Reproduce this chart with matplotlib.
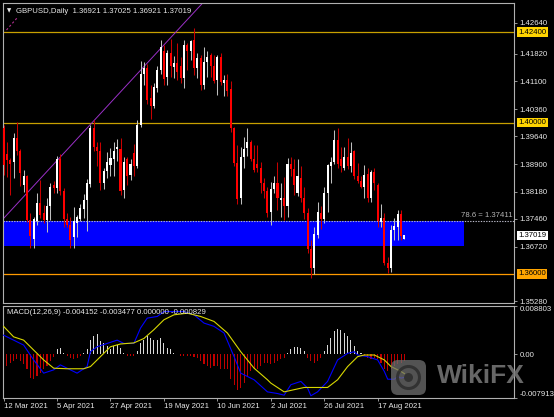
import matplotlib
matplotlib.use('Agg')
import matplotlib.pyplot as plt
import numpy as np
import pandas as pd
from matplotlib.patches import Rectangle, FancyBboxPatch
import matplotlib.transforms as mtransforms

plt.rcParams['font.family'] = ['Liberation Sans', 'DejaVu Sans']

W, H = 554, 417

# daily GBPUSD candles, 12 Mar 2021 .. 27 Aug 2021
opens = [1.3985, 1.3918, 1.3901, 1.3897, 1.3959, 1.3924, 1.3836, 1.3858, 1.3743, 1.3692,
         1.3740, 1.3787, 1.3760, 1.3742, 1.3780, 1.3835, 1.3828, 1.3905, 1.3820, 1.3745,
         1.3730, 1.3698, 1.3735, 1.3745, 1.3772, 1.3795, 1.3838, 1.3985, 1.3935, 1.3925,
         1.3840, 1.3872, 1.3888, 1.3905, 1.3930, 1.3930, 1.3822, 1.3905, 1.3862, 1.3920,
         1.3885, 1.3995, 1.4130, 1.4145, 1.4065, 1.4045, 1.4092, 1.4140, 1.4190, 1.4120,
         1.4185, 1.4148, 1.4157, 1.4150, 1.4118, 1.4205, 1.4190, 1.4220, 1.4145, 1.4170,
         1.4100, 1.4160, 1.4180, 1.4150, 1.4112, 1.4175, 1.4105, 1.4112, 1.4090, 1.3985,
         1.3893, 1.3800, 1.3910, 1.3933, 1.3948, 1.3905, 1.3890, 1.3880, 1.3840, 1.3820,
         1.3765, 1.3825, 1.3840, 1.3795, 1.3800, 1.3780, 1.3890, 1.3877, 1.3815, 1.3855,
         1.3800, 1.3760, 1.3665, 1.3615, 1.3703, 1.3760, 1.3745, 1.3813, 1.3885, 1.3897,
         1.3955, 1.3905, 1.3880, 1.3910, 1.3885, 1.3925, 1.3860, 1.3845, 1.3830, 1.3865,
         1.3800, 1.3870, 1.3835, 1.3737, 1.3748, 1.3630, 1.3617, 1.3717, 1.3725, 1.3758,
         1.36921]
highs = [1.3995, 1.3950, 1.3906, 1.3972, 1.4001, 1.3930, 1.3876, 1.3862, 1.3760, 1.3752,
         1.3813, 1.3849, 1.3782, 1.3800, 1.3840, 1.3845, 1.3912, 1.3918, 1.3827, 1.3760,
         1.3750, 1.3778, 1.3757, 1.3785, 1.3812, 1.3850, 1.3995, 1.4008, 1.3950, 1.3950,
         1.3880, 1.3922, 1.3932, 1.3950, 1.3957, 1.3959, 1.3910, 1.3910, 1.3905, 1.3945,
         1.4007, 1.4162, 1.4160, 1.4155, 1.4100, 1.4105, 1.4150, 1.4219, 1.4205, 1.4193,
         1.4222, 1.4176, 1.4212, 1.4175, 1.4219, 1.4212, 1.4220, 1.4250, 1.4185, 1.4180,
         1.4200, 1.4190, 1.4185, 1.4180, 1.4180, 1.4185, 1.4125, 1.4130, 1.4110, 1.3990,
         1.3941, 1.3935, 1.3963, 1.3985, 1.3955, 1.3940, 1.3940, 1.3895, 1.3855, 1.3830,
         1.3844, 1.3860, 1.3897, 1.3840, 1.3857, 1.3906, 1.3910, 1.3905, 1.3905, 1.3885,
         1.3830, 1.3775, 1.3690, 1.3725, 1.3790, 1.3780, 1.3831, 1.3892, 1.3910, 1.3981,
         1.3985, 1.3935, 1.3937, 1.3959, 1.3950, 1.3928, 1.3893, 1.3860, 1.3888, 1.3880,
         1.3875, 1.3880, 1.3840, 1.3785, 1.3760, 1.3645, 1.3730, 1.3747, 1.3768, 1.3768,
         1.37025]
lows = [1.3862, 1.3857, 1.3809, 1.3853, 1.3915, 1.3832, 1.3816, 1.3738, 1.3668, 1.3668,
        1.3730, 1.3748, 1.3735, 1.3712, 1.3743, 1.3815, 1.3815, 1.3808, 1.3725, 1.3725,
        1.3668, 1.3668, 1.3699, 1.3740, 1.3748, 1.3715, 1.3830, 1.3925, 1.3885, 1.3822,
        1.3825, 1.3853, 1.3860, 1.3860, 1.3900, 1.3808, 1.3800, 1.3835, 1.3848, 1.3860,
        1.3880, 1.3990, 1.4100, 1.4050, 1.4010, 1.4040, 1.4080, 1.4130, 1.4100, 1.4100,
        1.4120, 1.4118, 1.4112, 1.4105, 1.4091, 1.4140, 1.4165, 1.4125, 1.4118, 1.4087,
        1.4090, 1.4120, 1.4120, 1.4105, 1.4073, 1.4100, 1.4070, 1.4070, 1.3975, 1.3885,
        1.3786, 1.3785, 1.3880, 1.3912, 1.3900, 1.3870, 1.3870, 1.3813, 1.3800, 1.3750,
        1.3730, 1.3815, 1.3770, 1.3752, 1.3743, 1.3751, 1.3860, 1.3810, 1.3805, 1.3790,
        1.3745, 1.3655, 1.3589, 1.3600, 1.3695, 1.3718, 1.3735, 1.3765, 1.3840, 1.3892,
        1.3880, 1.3870, 1.3875, 1.3878, 1.3870, 1.3850, 1.3840, 1.3827, 1.3800, 1.3790,
        1.3790, 1.3822, 1.3725, 1.3725, 1.3624, 1.3602, 1.3605, 1.3690, 1.3690, 1.3690,
        1.36921]
closes = [1.3888, 1.3901, 1.3891, 1.3959, 1.3924, 1.3866, 1.3858, 1.3743, 1.3700, 1.3745,
          1.3787, 1.3756, 1.3742, 1.3780, 1.3830, 1.3828, 1.3905, 1.3820, 1.3745, 1.3730,
          1.3690, 1.3740, 1.3752, 1.3775, 1.3795, 1.3840, 1.3985, 1.3935, 1.3925, 1.3840,
          1.3872, 1.3895, 1.3906, 1.3925, 1.3937, 1.3820, 1.3895, 1.3860, 1.3890, 1.3885,
          1.3993, 1.4130, 1.4145, 1.4060, 1.4045, 1.4095, 1.4140, 1.4200, 1.4115, 1.4185,
          1.4150, 1.4157, 1.4135, 1.4118, 1.4205, 1.4190, 1.4215, 1.4145, 1.4170, 1.4100,
          1.4160, 1.4175, 1.4150, 1.4110, 1.4175, 1.4108, 1.4112, 1.4085, 1.3985, 1.3893,
          1.3797, 1.3910, 1.3930, 1.3948, 1.3905, 1.3875, 1.3880, 1.3840, 1.3820, 1.3760,
          1.3825, 1.3840, 1.3800, 1.3802, 1.3780, 1.3890, 1.3877, 1.3835, 1.3860, 1.3800,
          1.3760, 1.3665, 1.3615, 1.3707, 1.3765, 1.3745, 1.3813, 1.3887, 1.3897, 1.3955,
          1.3890, 1.3885, 1.3910, 1.3885, 1.3920, 1.3860, 1.3845, 1.3830, 1.3862, 1.3800,
          1.3870, 1.3840, 1.3740, 1.3748, 1.3630, 1.3615, 1.3717, 1.3728, 1.3758, 1.3700,
          1.37019]

# MACD(12,26,9), values in units of 1e-4
macd_idx = [0, 3, 6, 9, 12, 15, 17, 19, 22, 25, 26, 28, 31, 34, 36, 39, 41, 43, 46, 48,
            51, 54, 57, 60, 63, 66, 69, 71, 75, 79, 82, 84, 86, 89, 91, 92, 94, 97, 100,
            103, 105, 106, 109, 112, 114, 115, 117, 118, 119, 120]
macd_vals = [35, 26, 17, -10, -34, -28, -19, -25, -34, -22, 5, 14, 20, 26, 20, 20, 48, 66, 69, 78,
             78, 78, 72, 57, 51, 39, -4, -34, -46, -68, -71, -74, -55, -49, -61, -75, -68, -49, -10,
             2, 5, -1, -4, -10, -31, -45, -45, -40, -43, -41.52]
signal_idx = [0, 3, 6, 9, 12, 15, 19, 24, 26, 29, 32, 35, 39, 42, 45, 48, 51, 55, 59, 63,
              67, 71, 75, 79, 80, 84, 90, 97, 100, 103, 106, 108, 111, 114, 116, 119, 120]
signal_vals = [51, 32, 26, 8, -10, -25, -26, -26, -22, -4, 14, 19, 21, 29, 45, 63, 72, 75, 69, 60,
               39, 5, -25, -46, -52, -68, -60, -60, -46, -22, -4, -1, -1, -10, -22, -31, -34.77]
hist_vals = [-21, -21, -15, -12, -9, -12, -18, -27, -42, -45,
             -39, -33, -27, -21, -12, -4, 9, 12, 3, -2,
             -6, -9, -6, -2, 3, 9, 27, 33, 38, 24,
             21, 15, 9, 15, 18, 12, 3, -2, -3, -2,
             6, 21, 27, 33, 30, 27, 27, 30, 21, 12,
             9, 3, 1, -2, -3, -2, -3, -4, -6, -12,
             -18, -21, -24, -21, -21, -27, -27, -27, -45, -55,
             -64, -61, -51, -39, -30, -27, -27, -21, -15, -15,
             -18, -15, -12, -9, -6, 3, 9, 14, 14, 12,
             6, -6, -12, -15, -12, -6, 6, 18, 30, 42,
             47, 45, 39, 33, 27, 15, 6, 3, -2, -6,
             -9, -6, -8, -15, -27, -30, -27, -21, -18, -15,
             -12]

price_ticks = [1.42640, 1.41820, 1.41100, 1.40360, 1.39640, 1.38900, 1.38180,
               1.37460, 1.36720, 1.35280]
gold_levels = [1.42400, 1.40000]
support_level = 1.36000
fib_level = 1.37411
zone_low = 1.36749
macd_max, macd_min = 0.008803, -0.007913
date_ticks = [0, 16, 32, 48, 64, 80, 96, 112]

dates = pd.bdate_range('2021-03-12', periods=len(closes))

BG = 'black'
GRID = '#B0B0B0'
TXT = '#E8E8E8'
FS = 5.6

# bar i sits at pixel 3.6 + 3.34*i ; plot spans pixel 3..514
px0, step = 3.6, 3.34
xmin = (3 - px0) / step
xmax = (514 - px0) / step


def fig_rect(l, t, r, b):
    return [l / W, 1 - b / H, (r - l) / W, (b - t) / H]


fig = plt.figure(figsize=(W / 100, H / 100), dpi=100, facecolor=BG)
ax = fig.add_axes(fig_rect(3, 3, 514, 303), facecolor=BG)
ax2 = fig.add_axes(fig_rect(3, 306, 514, 398), facecolor=BG)

# ---- price panel ----
x = np.arange(len(closes))
o = np.array(opens)
hi = np.array(highs)
lo = np.array(lows)
c = np.array(closes)
up = c >= o

ax.add_patch(Rectangle((xmin, zone_low), (464 - px0) / step - xmin, fib_level - zone_low,
                       facecolor='#0000FF', edgecolor='none', zorder=1))
for lv in gold_levels:
    ax.axhline(lv, color='#C8A000', lw=0.9, zorder=1.5)
ax.axhline(support_level, color='#FF9A00', lw=0.9, zorder=1.5)
ax.axhline(fib_level, color='#B8B8C8', lw=0.8, ls=(0, (1.2, 1.2)), zorder=1.6)

# trend line and channel stub
ax.axline((xmin, 1.37454), (54.9, 1.42717), color='#9B30C8', lw=0.7, zorder=1.7)
ax.plot([(6.5 - px0) / step, (17 - px0) / step], [1.424 + 2 / 3781, 1.424 + 14 / 3781],
        color='#B03090', lw=0.8, ls=(0, (2, 2)), zorder=1.7)

ax.vlines(x[up], lo[up], hi[up], color='#BEBEBE', lw=0.75, zorder=2)
ax.vlines(x[~up], lo[~up], hi[~up], color='#C80000', lw=0.75, zorder=2)
ax.bar(x[up], np.maximum(c - o, 0.00005)[up], bottom=o[up], width=0.62,
       color='white', lw=0, zorder=3)
ax.bar(x[~up], (o - c)[~up], bottom=c[~up], width=0.62, color='#FF0000', lw=0, zorder=3)

ax.set_xlim(xmin, xmax)
ax.set_ylim(1.424 - 271 / 3781, 1.424 + 29 / 3781)
ax.set_xticks([])
ax.yaxis.tick_right()
ax.set_yticks(price_ticks)
ax.set_yticklabels([f'{v:.5f}' for v in price_ticks])
ax.tick_params(axis='y', direction='out', length=2, width=0.6, color=GRID,
               labelcolor=TXT, labelsize=FS, pad=2)
for s in ax.spines.values():
    s.set_color(GRID)
    s.set_linewidth(0.8)

ytrans = mtransforms.blended_transform_factory(ax.transAxes, ax.transData)
lab_x = 1 + 4.5 / 511
for lv in gold_levels:
    ax.text(lab_x, lv, f'{lv:.5f}', transform=ytrans, ha='left', va='center', fontsize=FS,
            color='black', clip_on=False, zorder=5,
            bbox=dict(boxstyle='square,pad=0.15', fc='#FFD400', ec='none'))
ax.text(lab_x, support_level, f'{support_level:.5f}', transform=ytrans, ha='left',
        va='center', fontsize=FS, color='black', clip_on=False, zorder=5,
        bbox=dict(boxstyle='square,pad=0.15', fc='#FFA500', ec='none'))
ax.text(lab_x, closes[-1], f'{closes[-1]:.5f}', transform=ytrans, ha='left', va='center',
        fontsize=FS, color='black', clip_on=False, zorder=5,
        bbox=dict(boxstyle='square,pad=0.15', fc='white', ec='none'))
ax.text(0.998, fib_level + 0.0003, f'78.6 = {fib_level:.5f}', transform=ytrans,
        ha='right', va='bottom', fontsize=FS, color='#B4B4B4', zorder=5)

ax.text(4 / 511, 0.973, '\u25BC', transform=ax.transAxes, fontsize=4, color=TXT,
        va='center', ha='left', family=['DejaVu Sans'])
ax.text(13 / 511, 0.973, 'GBPUSD,Daily  1.36921 1.37025 1.36921 1.37019',
        transform=ax.transAxes, fontsize=FS, color=TXT, va='center', ha='left')

# ---- MACD panel ----
hv = np.array(hist_vals) * 1e-4
ax2.bar(x, hv, width=0.32, color=np.where(hv >= 0, '#D8D8D8', '#C00000'), lw=0, zorder=2)
ax2.plot(macd_idx, np.array(macd_vals) * 1e-4, color='#0000FF', lw=0.8, zorder=3)
ax2.plot(signal_idx, np.array(signal_vals) * 1e-4, color='#D8D800', lw=0.8, zorder=3)
ax2.set_xlim(xmin, xmax)
ax2.set_ylim(macd_min, macd_max)
ax2.yaxis.tick_right()
ax2.set_yticks([macd_max, 0, macd_min])
ax2.set_yticklabels(['0.008803', '0.00', '-0.007913'])
ylabs = ax2.get_yticklabels()
ylabs[0].set_va('top')
ylabs[2].set_va('bottom')
ax2.tick_params(axis='y', direction='out', length=2, width=0.6, color=GRID,
                labelcolor=TXT, labelsize=FS, pad=2)
ax2.set_xticks(date_ticks)
ax2.set_xticklabels([f'{dates[i].day} {dates[i].strftime("%b %Y")}' for i in date_ticks])
for lab in ax2.get_xticklabels():
    lab.set_ha('left')
ax2.tick_params(axis='x', direction='out', length=2.5, width=0.6, color=GRID,
                labelcolor=TXT, labelsize=FS, pad=1)
for s in ax2.spines.values():
    s.set_color(GRID)
    s.set_linewidth(0.8)
ax2.text(4 / 511, 0.93, 'MACD(12,26,9) -0.004152 -0.003477 0.000000 -0.000829',
         transform=ax2.transAxes, fontsize=FS, color=TXT, va='center', ha='left', zorder=5)

# ---- watermark ----
ov = fig.add_axes([0, 0, 1, 1], facecolor='none', zorder=10)
ov.set_xlim(0, W)
ov.set_ylim(H, 0)
ov.axis('off')
ov.add_patch(FancyBboxPatch((391, 360), 35, 35, boxstyle='round,pad=0,rounding_size=7',
                            fc='#707070', ec='none', alpha=0.75))
ov.add_patch(plt.Circle((408.5, 377.5), 11, fc='none', ec='#2A2A2A', lw=2.2, alpha=0.8))
ov.add_patch(plt.Circle((408.5, 377.5), 4.5, fc='#2A2A2A', ec='none', alpha=0.8))
ov.text(437, 376, 'WikiFX', fontsize=19, fontweight='bold', color='#7A7A7A', alpha=0.85,
        va='center', ha='left')

fig.savefig('out.png', dpi=100, facecolor=BG)
